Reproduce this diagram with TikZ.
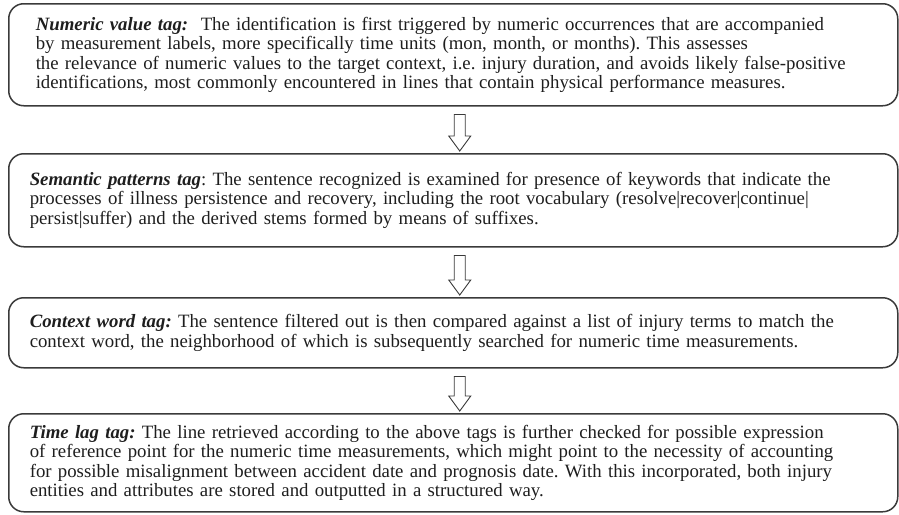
\documentclass[tikz,border=0pt]{standalone}
\usepackage{fontspec}
\setmainfont{Liberation Serif}
\usetikzlibrary{calc}
\definecolor{edge}{HTML}{3A3A3A}
\definecolor{ink}{HTML}{1E1E1E}
\tikzset{
  tagbox/.style={draw=edge, line width=1.5pt, rounded corners=15pt, text=ink,
    align=left, inner ysep=0pt, anchor=north west,
    font=\fontsize{18.8}{19.5}\selectfont\frenchspacing},
  barrow/.style={draw=edge, line width=0.9pt, fill=white, line join=miter}
}
\newcommand\tagname[1]{\textbf{\textit{#1}}}
\newcommand\blockarrow[2]{%
  \draw[barrow] let \p1=($(#1.south)+(6.5,8)$), \p2=($(#2.north)+(6.5,-2)$) in
    (\x1-5.5pt,\y1) -- (\x1+5.5pt,\y1) -- (\x1+5.5pt,\y2+15pt) -- (\x1+11pt,\y2+15pt)
    -- (\x1,\y2) -- (\x1-11pt,\y2+15pt) -- (\x1-5.5pt,\y2+15pt) -- cycle;}
\begin{document}
\begin{tikzpicture}[x=1pt,y=-1pt]
\useasboundingbox (0,0) rectangle (899,514);
\node[tagbox, inner xsep=27pt, text width=835pt, minimum height=102pt] (b1) at (8,3)
 {\tagname{Numeric value tag:}\ \ The identification is first triggered by numeric occurrences that are accompanied\\
 by measurement labels, more specifically time units (mon, month, or months). This assesses\\
 the relevance of numeric values to the target context, i.e. injury duration, and avoids likely false-positive\\
 identifications, most commonly encountered in lines that contain physical performance measures.};
\node[tagbox, inner xsep=21pt, text width=847pt, minimum height=93pt] (b2) at (8,153)
 {\tagname{Semantic patterns tag}: The sentence recognized is examined for presence of keywords that indicate the\\
 processes of illness persistence and recovery, including the root vocabulary (resolve|recover|continue|\\
 persist|suffer) and the derived stems formed by means of suffixes.};
\node[tagbox, inner xsep=21pt, text width=847pt, minimum height=70pt] (b3) at (8,297)
 {\tagname{Context word tag:} The sentence filtered out is then compared against a list of injury terms to match the\\
 context word, the neighborhood of which is subsequently searched for numeric time measurements.};
\node[tagbox, inner xsep=21pt, text width=847pt, minimum height=98pt] (b4) at (8,413)
 {\tagname{Time lag tag:} The line retrieved according to the above tags is further checked for possible expression\\
 of reference point for the numeric time measurements, which might point to the necessity of accounting\\
 for possible misalignment between accident date and prognosis date. With this incorporated, both injury\\
 entities and attributes are stored and outputted in a structured way.};
\blockarrow{b1}{b2}
\blockarrow{b2}{b3}
\blockarrow{b3}{b4}
\end{tikzpicture}
\end{document}
